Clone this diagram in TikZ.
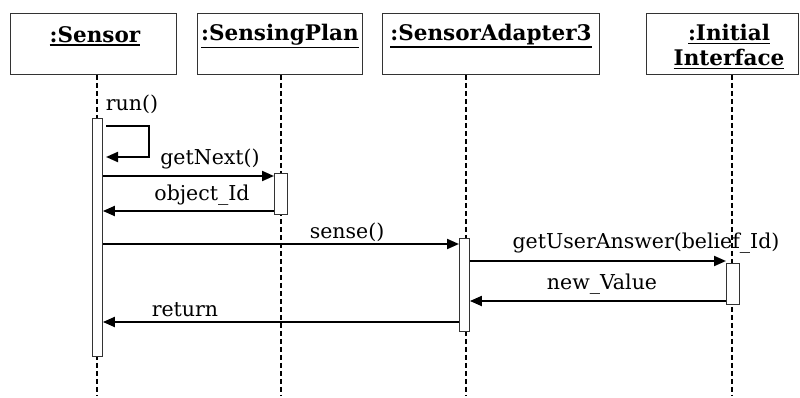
\documentclass[tikz,border=0pt]{standalone}
\usepackage{fontspec}
\setmainfont{DejaVu Serif}
\usetikzlibrary{arrows.meta}
% underline with a heavier rule for object names
\newcommand\objname[1]{\leavevmode\vtop{\hbox{#1}\kern1.6pt\hrule height 1.7pt}}
\tikzset{
  obj/.style={draw=black!80, line width=0.9pt, minimum width=#1, minimum height=61pt, inner sep=0pt, anchor=north west},
  objtext/.style={font=\fontsize{21.5}{26}\selectfont\bfseries, align=center, inner sep=0pt},
  lifeline/.style={line width=2pt, dash pattern=on 5pt off 3pt},
  actbar/.style={draw=black!80, fill=white, line width=0.9pt, inner sep=0pt, anchor=north west},
  msg/.style={line width=2pt, -{Triangle[length=12pt,width=10pt]}},
  lbl/.style={font=\fontsize{20.5}{24}\selectfont, inner sep=0pt}
}
\begin{document}
\begin{tikzpicture}[x=1pt,y=-1pt]
\useasboundingbox (0,0) rectangle (800,398);

% object boxes
\node[obj=166pt] (bS) at (10,13) {};
\node[obj=165pt] (bP) at (197,13) {};
\node[obj=217pt] (bA) at (382,13) {};
\node[obj=152pt] (bI) at (646,13) {};
\node[objtext] (tS) at (95,36) {\objname{:Sensor}};
\node[objtext] (tP) at (280,36) {\objname{:SensingPlan}};
\node[objtext] (tA) at (491,36) {\objname{:SensorAdapter3}};
\node[objtext] (tI) at (729,47) {\objname{:Initial}\\[-1pt]\objname{Interface}};

% lifelines
\coordinate (eS) at (97,396);
\coordinate (eP) at (281,396);
\coordinate (eA) at (466,396);
\coordinate (eI) at (732,396);
\draw[lifeline] (bS.south -| eS) -- (eS);
\draw[lifeline] (bP.south -| eP) -- (eP);
\draw[lifeline] (bA.south -| eA) -- (eA);
\draw[lifeline] (bI.south -| eI) -- (eI);

% activation bars
\node[actbar, minimum width=10pt, minimum height=238pt] (aS) at (92,118) {};
\node[actbar, minimum width=13pt, minimum height=41pt] (aP) at (274,173) {};
\node[actbar, minimum width=10pt, minimum height=93pt] (aA) at (459,238) {};
\node[actbar, minimum width=13pt, minimum height=41pt] (aI) at (726,263) {};

% self call
\coordinate (r1) at (106,126);
\coordinate (r2) at (149,126);
\coordinate (r3) at (149,157);
\coordinate (r4) at (106,157);
\draw[msg] (r1) -- (r2) -- (r3) -- (r4);
\node[lbl] (lrun) at (132,104) {run()};

% messages
\draw[msg] (aS.east |- 0,176) -- (aP.west |- 0,176);
\node[lbl] (lnext) at (210,159) {getNext()};
\draw[msg] (aP.west |- 0,211) -- (aS.east |- 0,211);
\node[lbl] (lobj) at (202,195) {object\_Id};
\draw[msg] (aS.east |- 0,244) -- (aA.west |- 0,244);
\node[lbl] (lsense) at (347,232) {sense()};
\draw[msg] (aA.east |- 0,261) -- (aI.west |- 0,261);
\node[lbl] (lans) at (646,243) {getUserAnswer(belief\_Id)};
\draw[msg] (aI.west |- 0,301) -- (aA.east |- 0,301);
\node[lbl] (lval) at (602,284) {new\_Value};
\draw[msg] (aA.west |- 0,322) -- (aS.east |- 0,322);
\node[lbl] (lret) at (185,310) {return};
\end{tikzpicture}
\end{document}
